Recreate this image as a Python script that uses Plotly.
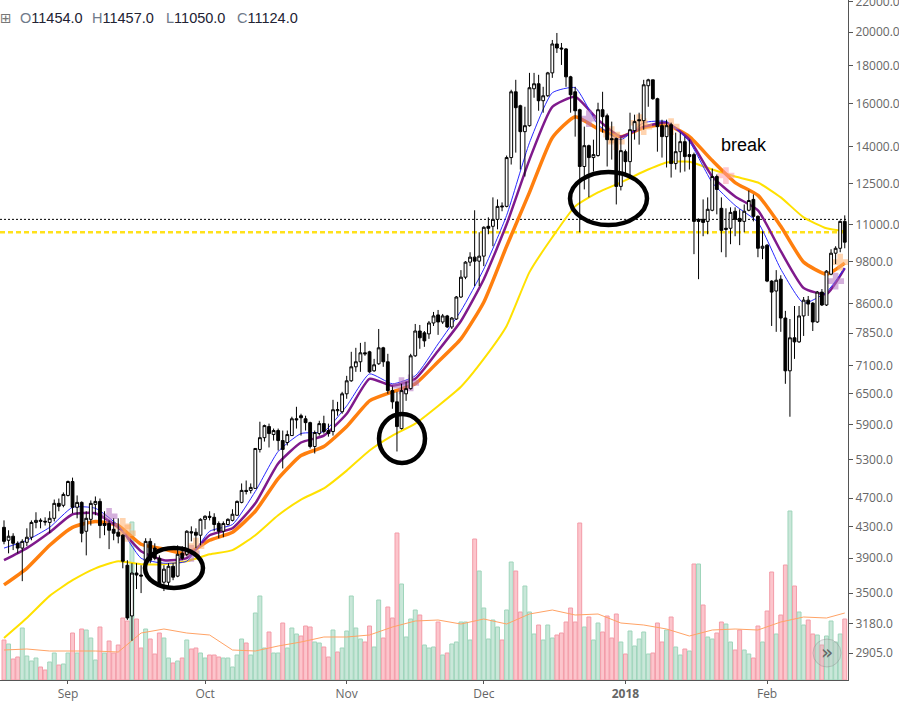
import pandas as pd
import plotly.graph_objects as go

opens = [4293,4124,4176,4085,4025,4098,4163,4359,4373,4375,
 4359,4415,4625,4597,4740,4950,4569,4639,4241,4401,
 4611,4653,4345,4345,4267,4228,4189,3816,3260,3725,
 3702,3864,4110,4025,3900,3620,3620,3804,3689,3960,
 3948,4235,4228,4189,4401,4443,4429,4345,4241,4331,
 4387,4457,4639,4815,4815,4845,5468,5672,5871,5727,
 5799,5621,5587,5709,6015,6072,6015,5943,5519,5745,
 5925,5799,5781,6167,6148,6500,6768,7069,7180,7383,
 7406,6981,7135,7498,7180,6565,6340,5835,6500,6605,
 7314,7900,7855,7830,8100,8305,8125,8279,8000,8200,
 8780,9338,9785,9938,9815,9969,10937,10937,11175,11650,
 11635,13540,16610,15905,14675,14950,16767,17030,16155,16405,
 17615,19270,19030,18975,17400,16610,15710,13170,14050,13540,
 13625,15710,15420,14360,14360,12380,13790,13370,14720,15230,
 15185,16925,17240,16255,14950,14450,14995,13290,13790,14225,
 13665,13665,11175,11175,11105,11495,12765,11565,10870,10870,
 11460,11210,11105,11495,11890,11280,10215,10315,9225,8945,
 9280,8225,6981,7735,7638,8279,8695,8615,8125,8915,
 8565,9425,10060,10215,11105]
highs = [4387,4254,4215,4110,4137,4280,4387,4499,4415,4429,
 4513,4680,4695,4785,4965,5010,4740,4653,4513,4667,
 4725,4695,4513,4387,4415,4415,4202,3876,3840,3840,
 3816,4150,4150,4085,3935,3816,3840,3840,4060,4050,
 4254,4306,4280,4415,4457,4513,4485,4373,4373,4415,
 4541,4667,4920,4965,4920,5485,5960,5907,5925,5835,
 5835,5799,5799,6053,6243,6110,6072,5960,5799,5978,
 6072,5925,6380,6340,6540,6873,7406,7498,7614,7638,
 7429,7245,7950,7521,7360,6645,6540,6705,6747,7360,
 8075,8050,7900,8150,8382,8434,8330,8305,8252,8808,
 9545,9815,10090,11495,10735,10937,11245,11965,11890,11780,
 13625,16715,17240,15955,15855,17615,17615,17510,16870,17670,
 19510,19940,19330,19030,17455,16870,15760,14905,14095,14315,
 16055,16610,15520,15140,14405,14405,13880,15565,15470,15565,
 17240,17295,17240,16305,15230,15230,15090,14630,14630,14450,
 14315,13750,11210,11890,11965,13085,12845,11965,11565,11600,
 11600,11530,11705,12225,12075,11315,10770,10345,9250,9545,
 9395,8410,8200,8538,8538,8780,8808,8640,8945,9000,
 9545,10185,10280,11140,11315]
lows = [4073,3960,4000,3960,3632,4050,4124,4280,4280,4317,
 4215,4373,4513,4569,4725,4485,4415,4098,3935,4317,
 4457,4150,4189,4012,4124,4085,3780,3220,3018,3544,
 3500,3840,3840,3876,3590,3522,3578,3643,3677,3876,
 3924,4110,4025,4060,4267,4387,4241,4150,4163,4317,
 4373,4450,4625,4755,4770,4845,5417,5604,5502,5621,
 5451,5155,5536,5709,5835,5709,5799,5485,5400,5709,
 5745,5690,5709,6072,6110,6400,6747,6959,6959,7314,
 6937,6959,7113,7069,6500,6205,5434,5817,6360,6585,
 7290,7475,7521,7710,8025,7806,8075,7975,7950,8175,
 8752,9280,9665,9085,9085,9665,10670,10280,10835,11460,
 11600,13250,13750,13045,12765,14905,16305,15660,15565,16355,
 17345,18740,18055,16870,15565,14450,10735,12265,11965,12965,
 13580,14630,13170,13455,11705,12225,12765,12765,14315,14095,
 14765,15855,16205,13790,13540,13130,12725,13045,12925,12965,
 13045,10030,9280,10605,10670,11460,11350,10090,9935,10345,
 10605,10315,10735,11460,11105,9935,9875,9195,8025,7880,
 7880,6705,6053,7245,7614,7780,8279,7900,8100,8538,
 8538,9395,9725,10090,10215]
closes = [4110,4176,4085,4025,4110,4163,4359,4387,4387,4365,
 4415,4625,4583,4755,4950,4569,4639,4215,4415,4625,
 4653,4317,4317,4254,4215,4176,3864,3240,3725,3702,
 3690,4110,3876,3900,3600,3770,3804,3677,3948,3900,
 4241,4220,4189,4401,4443,4429,4331,4241,4345,4401,
 4471,4653,4815,4800,4860,5485,5672,5889,5745,5799,
 5621,5468,5727,6015,5996,6034,5943,5519,5763,5925,
 5781,5745,6186,6186,6500,6768,7069,7180,7383,7360,
 6959,7113,7498,7180,6565,6340,5871,6565,6605,7314,
 7900,7735,7662,8100,8279,8125,8279,8000,8225,8780,
 9338,9785,9938,9815,9969,10904,10870,11175,11635,11620,
 13540,16610,15810,14675,14950,16820,17030,16155,16405,17615,
 19270,19030,18975,17400,16455,15660,13170,14050,13540,13665,
 15710,15375,14315,14315,12380,13835,13370,14765,15140,15185,
 16975,17240,16255,14905,14450,14950,13290,13790,14225,13580,
 13580,11105,11105,11070,11530,12765,12265,10800,10835,11420,
 11175,11105,11460,11850,11280,10215,10280,9225,8915,9250,
 8225,6981,7735,7638,8279,8695,8590,8125,8915,8565,
 9515,10060,10215,11105,10410]

volumes = [40,36,21,23,52,24,19,22,13,10,
 18,27,15,16,27,47,27,51,50,42,
 20,53,27,39,27,35,62,59,158,61,
 32,51,41,26,47,42,22,17,19,22,
 40,31,32,27,22,25,25,23,22,22,
 13,25,41,37,25,67,84,32,48,27,
 27,57,32,52,46,44,54,53,38,37,
 33,23,50,28,32,49,84,52,41,38,
 54,33,80,42,73,62,147,96,43,61,
 70,65,35,32,33,58,25,27,36,38,
 58,58,40,141,109,72,41,60,53,40,
 70,118,109,68,94,68,46,55,40,55,
 42,45,47,58,72,58,157,53,63,40,
 57,48,64,42,66,38,26,49,34,41,
 48,26,27,57,38,50,63,33,25,31,
 29,116,116,75,43,41,47,58,56,38,
 30,50,30,26,22,54,38,69,108,46,
 65,115,169,94,68,55,60,46,45,35,
 44,59,38,46,61]
volume_sides = list(
 "dudduuuudd" "uuduududuu" "ududddddud" "duddduudud"
 "udduuddduu" "uuuduuuudu" "uduuuddduu" "dduduuuuud"
 "duudddduuu" "uduuududuu" "uuuduuuuud" "uudduuuduu"
 "uddddddudu" "udddduduuu" "uuddduduud" "ududuudduu"
 "dduudduddu" "dduduuddud" "uuuud")

line_index = [0,5,10,15,20,25,30,35,40,45,50,55,60,65,70,75,80,85,90,95,100,105,110,115,120,125,130,135,140,145,150,155,160,165,170,175,180,184]
blue_line = [4025,4124,4293,4569,4555,4317,3900,3840,3864,4241,4331,4800,5434,5745,5781,6260,6915,6705,6873,7590,8410,9575,11315,14180,16560,16820,14995,14315,15090,15140,14225,12530,11670,11070,9575,8615,8915,9605]
purple_line = [3876,4025,4228,4471,4485,4293,3985,3876,3900,4189,4280,4625,5235,5587,5709,6110,6810,6665,6810,7429,8150,9280,11005,13455,15855,16355,15230,14450,14905,15090,14315,12765,12000,11495,10125,9030,8860,9605]
orange_line = [3590,3780,4060,4293,4373,4317,4073,4012,3955,4124,4228,4513,4995,5365,5519,5871,6360,6540,6705,7180,7710,8640,10280,12150,14405,15375,14810,14450,14860,14995,14450,13415,12530,12040,10937,9785,9425,9755]
yellow_line = [3045,3240,3470,3643,3780,3864,3828,3828,3864,3948,4000,4189,4457,4680,4845,5120,5451,5709,5925,6260,6645,7245,8025,9485,10570,11635,12150,12530,12965,13330,13370,13045,12765,12530,11965,11245,10870,10770]
volume_ma = [30,31,29,29,29,28,47,51,47,45,30,29,34,38,43,43,45,53,59,60,56,61,56,66,70,65,66,57,55,51,44,50,51,50,58,63,62,67]

blob_index = [23,26,27,41,42,87,89,128,133,134,139,140,146,158,182,183]
blob_price = [4443,4306,4215,3960,4050,6665,6725,15280,14540,14225,15090,14905,14905,12805,9225,9785]
blob_color = ["#b070c0","#ffb070","#ffb070","#b070c0","#ffb070","#b070c0","#b070c0","#b070c0",
              "#ffb070","#ffb070","#ffb070","#ffb070","#ffb070","#ff9aa8","#b070c0","#ffb070"]

last_price_level = 11175
yellow_level = 10735
price_ticks = [22000,20000,18000,16000,14000,12500,11000,9800,8600,7850,7100,6500,5900,5300,4700,4300,3900,3500,3180,2905]
month_ticks = ["2017-09-01","2017-10-01","2017-11-01","2017-12-01","2018-01-01","2018-02-01"]
month_labels = ["Sep","Oct","Nov","Dec","<b>2018</b>","Feb"]

dates = pd.date_range("2017-08-18", periods=len(opens), freq="D")
x_range = ["2017-08-17 03:00", "2018-02-18 17:00"]
line_dates = [dates[i] for i in line_index]
price_range = [3.4268, 4.3442]

vol_fill = ["#c9e7d9" if s == "u" else "#fcc5cc" for s in volume_sides]
vol_edge = ["#9fd5bb" if s == "u" else "#f39ca8" for s in volume_sides]

fig = go.Figure()
fig.add_bar(x=dates, y=volumes, width=86400000*0.86, yaxis="y",
            marker=dict(color=vol_fill, line=dict(color=vol_edge, width=1)))
fig.add_scatter(x=line_dates, y=volume_ma, yaxis="y", mode="lines",
                line=dict(color="#ffa366", width=1))

def add_price_line(y, color, width):
    fig.add_scatter(x=line_dates, y=y, yaxis="y2", mode="lines",
                    line=dict(color=color, width=width, shape="spline", smoothing=0.5))

fig.add_scatter(x=x_range, y=[yellow_level]*2, yaxis="y2", mode="lines",
                line=dict(color="#ffe11a", width=2.5, dash="5px,3px"))
fig.add_scatter(x=x_range, y=[last_price_level]*2, yaxis="y2", mode="lines",
                line=dict(color="#000000", width=1, dash="2px,2px"))
add_price_line(yellow_line, "#ffe100", 2)
add_price_line(orange_line, "#ff7f0e", 3.5)
add_price_line(purple_line, "#7f1a8c", 2.5)
add_price_line(blue_line, "#2a2aff", 1)
fig.add_scatter(x=[dates[i] for i in blob_index], y=blob_price, yaxis="y2", mode="markers",
                marker=dict(symbol="cross", size=14, color=blob_color, opacity=0.55, line=dict(width=0)))
fig.add_candlestick(x=dates, open=opens, high=highs, low=lows, close=closes, yaxis="y3",
                    whiskerwidth=0,
                    increasing=dict(line=dict(color="#000000", width=1), fillcolor="#ffffff"),
                    decreasing=dict(line=dict(color="#000000", width=1), fillcolor="#000000"))

W, H = 899, 701
PW, PH = 848, 680
def px(x): return x/PW
def py(y): return 1 - y/PH

tick_font = dict(family="Open Sans, Liberation Sans, sans-serif", size=12, color="#666666")
ellipses = [(145,548,203,588),(379,414,425,463),(570,172,647,225)]
shapes = [dict(type="circle", xref="paper", yref="paper", x0=px(a), x1=px(c), y0=py(d), y1=py(b),
               line=dict(color="#000000", width=4.5), layer="above") for a,b,c,d in ellipses]
shapes.append(dict(type="circle", xref="paper", yref="paper", x0=px(813), x1=px(841), y0=py(667), y1=py(639),
                   line=dict(color="rgba(130,130,130,0.35)", width=1), fillcolor="rgba(190,190,190,0.3)", layer="above"))

def header(label, value):
    return f"<span style='color:#6f7a8a'>{label}</span><span style='color:#222233'>{value}</span>"

annos = [
    dict(text="break", x=px(719), y=py(145), xref="paper", yref="paper", xanchor="left", yanchor="middle",
         showarrow=False, font=dict(family="Liberation Sans, Arial, sans-serif", size=18, color="#000000")),
    dict(text="»", x=px(827), y=py(652), xref="paper", yref="paper", xanchor="center", yanchor="middle",
         showarrow=False, font=dict(family="DejaVu Sans", size=20, color="#666666")),
    dict(text="⊞", x=px(0), y=py(18), xref="paper", yref="paper", xanchor="left", yanchor="middle", xshift=-2,
         showarrow=False, font=dict(family="DejaVu Sans", size=14, color="#777777")),
]
for label, value, xpos in [("O","11454.0",18),("H","11457.0",90),("L","11050.0",164),("C","11124.0",235)]:
    annos.append(dict(text=header(label, value), x=px(xpos), y=py(18), xref="paper", yref="paper",
                      xanchor="left", yanchor="middle", showarrow=False,
                      font=dict(family="Liberation Sans, Arial, sans-serif", size=14.5)))

fig.update_layout(
    width=W, height=H, margin=dict(l=0, r=W-PW, t=0, b=H-PH),
    paper_bgcolor="white", plot_bgcolor="white", showlegend=False, barmode="overlay", hovermode=False,
    boxgap=0.12,
    xaxis=dict(type="date", range=x_range, rangeslider=dict(visible=False), showgrid=False, zeroline=False,
               automargin=False, tickvals=month_ticks, ticktext=month_labels, tickfont=tick_font, ticks="outside",
               ticklen=3, tickcolor="#555555", showline=True, linecolor="#555555", linewidth=1),
    yaxis=dict(range=[0, PH], visible=False, fixedrange=True, automargin=False),
    yaxis2=dict(type="log", range=price_range, overlaying="y", side="right", anchor="x", showgrid=False,
                zeroline=False, automargin=False, tickvals=price_ticks, ticktext=[f"{v}.0" for v in price_ticks],
                tickfont=tick_font, ticks="outside", ticklen=4, tickcolor="#555555", showline=True,
                linecolor="#555555", linewidth=1, ticklabeloverflow="allow"),
    yaxis3=dict(type="log", range=price_range, overlaying="y", side="right", anchor="x", visible=False, automargin=False),
    shapes=shapes, annotations=annos,
)
fig.write_html("out.html", config=dict(displayModeBar=False),
               post_script="document.body.style.margin='0';document.body.style.overflow='hidden';")
